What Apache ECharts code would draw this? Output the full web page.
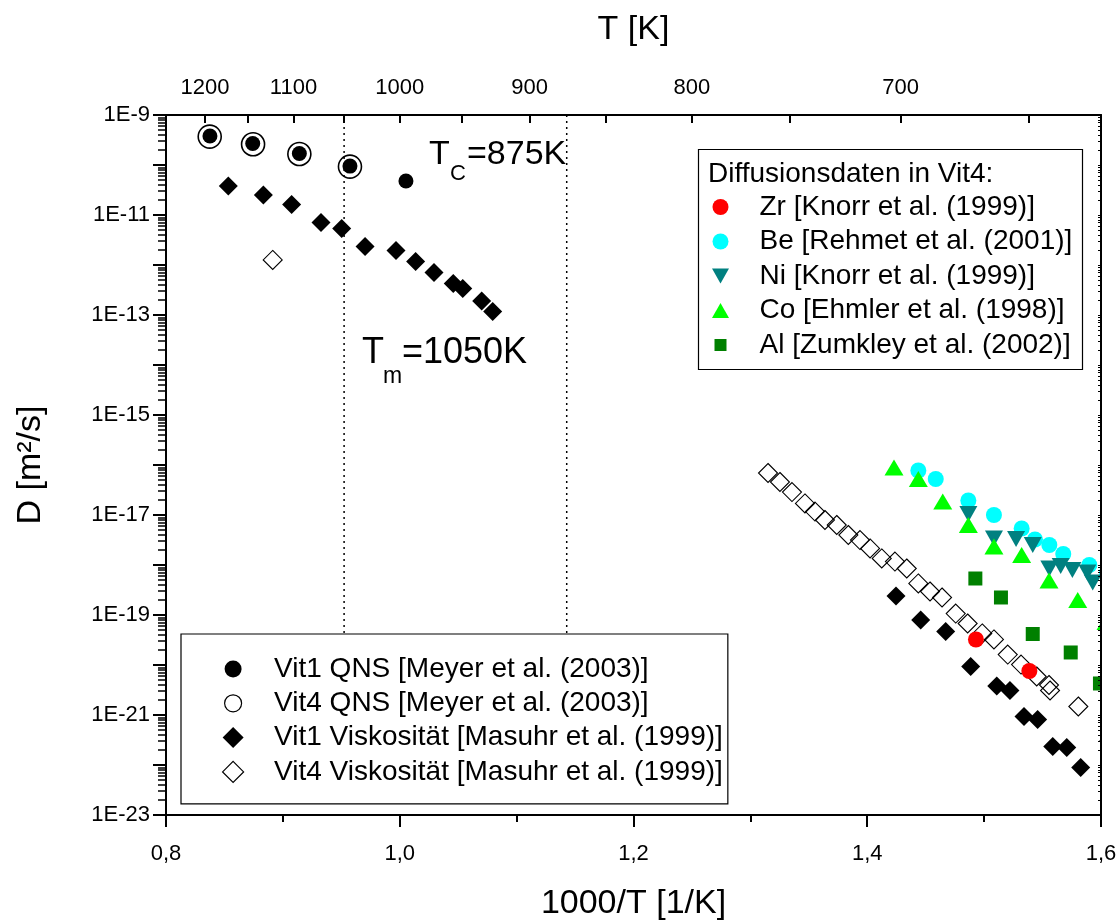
<!DOCTYPE html>
<html><head><meta charset="utf-8">
<script src="https://cdn.jsdelivr.net/npm/echarts@6/dist/echarts.min.js"></script>
<style>html,body{margin:0;padding:0;background:#fff}#c{width:1118px;height:921px}</style>
</head><body><div id="c"></div>
<script>
const FONT = "'Liberation Sans', Arial, sans-serif";

// ---- axis / annotation values ----
const topTickTemps = [1200, 1150, 1100, 1050, 1000, 950, 900, 850, 800, 750, 700, 650];
const topLabelTemps = [1200, 1100, 1000, 900, 800, 700];
const markerTemps = [1050, 875];

// ---- data: x = 1000/T [1/K], D [m^2/s] ----
const vit1QnsX = [0.8376, 0.8742, 0.9141, 0.9574, 1.0053];
const vit1QnsD = [3.8e-10, 2.7e-10, 1.7e-10, 9.5e-11, 4.8e-11];

const vit4QnsX = [0.8374, 0.8745, 0.9141, 0.9574];
const vit4QnsD = [3.7e-10, 2.6e-10, 1.66e-10, 9.3e-11];

const vit1ViskX = [0.8533, 0.8833, 0.9075, 0.9326, 0.9503, 0.9703, 0.9968, 1.0136, 1.0293, 1.0458, 1.0539, 1.0701, 1.0795,
  1.4246, 1.4457, 1.4671, 1.4885, 1.5108, 1.5221, 1.5341, 1.5458, 1.5587, 1.5707, 1.5826];
const vit1ViskD = [3.80e-11, 2.51e-11, 1.62e-11, 7.08e-12, 5.37e-12, 2.34e-12, 1.95e-12, 1.17e-12, 7.08e-13, 4.27e-13, 3.39e-13, 1.91e-13, 1.17e-13,
  2.40e-19, 7.94e-20, 4.68e-20, 9.33e-21, 3.80e-21, 3.09e-21, 9.33e-22, 8.13e-22, 2.34e-22, 2.24e-22, 8.91e-23];

const vit4ViskX = [0.8913, 1.3151, 1.3253, 1.3356, 1.3467, 1.3553, 1.3638, 1.3739, 1.3838, 1.3938, 1.4024, 1.4124, 1.4237, 1.4338,
  1.4437, 1.4537, 1.4640, 1.4757, 1.4859, 1.4984, 1.5084, 1.5202, 1.5316, 1.5450, 1.5555, 1.5564, 1.5806, 1.6073];
const vit4ViskD = [1.26e-12, 6.92e-17, 4.57e-17, 2.88e-17, 1.70e-17, 1.17e-17, 7.94e-18, 6.31e-18, 3.98e-18, 3.16e-18, 2.14e-18, 1.35e-18, 1.17e-18, 8.51e-19,
  4.27e-19, 2.95e-19, 2.24e-19, 1.07e-19, 6.76e-20, 4.27e-20, 3.24e-20, 1.62e-20, 1.02e-20, 5.89e-21, 3.98e-21, 3.09e-21, 1.48e-21, 3.09e-22];

const zrX = [1.4930, 1.5387];
const zrD = [3.24e-20, 7.59e-21];

const beX = [1.4437, 1.4586, 1.4865, 1.5084, 1.5321, 1.5435, 1.5558, 1.5677, 1.5900, 1.6051];
const beD = [7.76e-17, 5.25e-17, 1.95e-17, 1.00e-17, 5.37e-18, 3.24e-18, 2.51e-18, 1.66e-18, 1.00e-18, 7.08e-19];

const niX = [1.4865, 1.5084, 1.5273, 1.5416, 1.5558, 1.5655, 1.5755, 1.5883, 1.5929];
const niD = [1.05e-17, 3.39e-18, 3.31e-18, 2.51e-18, 8.51e-19, 9.55e-19, 7.94e-19, 7.08e-19, 4.47e-19];

const coX = [1.4229, 1.4437, 1.4646, 1.4865, 1.5084, 1.5321, 1.5555, 1.5801, 1.6043];
const coD = [8.91e-17, 5.25e-17, 1.86e-17, 6.31e-18, 2.34e-18, 1.58e-18, 4.90e-19, 2.00e-19, 7.24e-20];

const alX = [1.4925, 1.5144, 1.5416, 1.5741, 1.5991];
const alD = [5.37e-19, 2.24e-19, 4.17e-20, 1.78e-20, 4.27e-21];

// ---- names ----
const N = {
  v1q: 'Vit1 QNS [Meyer et al. (2003)]',
  v4q: 'Vit4 QNS [Meyer et al. (2003)]',
  v1v: 'Vit1 Viskosität [Masuhr et al. (1999)]',
  v4v: 'Vit4 Viskosität [Masuhr et al. (1999)]',
  zr: 'Zr [Knorr et al. (1999)]',
  be: 'Be [Rehmet et al. (2001)]',
  ni: 'Ni [Knorr et al. (1999)]',
  co: 'Co [Ehmler et al. (1998)]',
  al: 'Al [Zumkley et al. (2002)]'
};

const Y_MIN = -23, Y_MAX = -9;
const LEGEND1_BOX = { left: 181, top: 634 };

// log-axis decorations (minor ticks at k*10^n)
const decades = [];
for (let n = Y_MIN; n <= Y_MAX; n++) decades.push(n);
const minorLog = [];
for (let n = Y_MIN; n < Y_MAX; n++) for (let k = 2; k <= 9; k++) minorLog.push(n + Math.log10(k));

function pts(xs, ds) { return xs.map((x, i) => [x, Math.log10(ds[i])]); }
function sc(name, xs, ds, symbol, size, itemStyle, extra) {
  return Object.assign({
    type: 'scatter', name: name, data: pts(xs, ds), symbol: symbol, symbolSize: size,
    itemStyle: Object.assign({ opacity: 1 }, itemStyle), clip: false, silent: true, emphasis: { disabled: true }
  }, extra || {});
}

const DOWN_TRI = 'path://M0 0L18 0L9 16Z';
const L1_CIRCLE = 'path://M0 0M21 21M2 10.5A8.5 8.5 0 1 1 19 10.5A8.5 8.5 0 1 1 2 10.5Z';
const L1_DIAMOND = 'path://M10.5 0L21 10.5L10.5 21L0 10.5Z';
const L2_CIRCLE = 'path://M0 0M17 17M0.5 8.5A8 8 0 1 1 16.5 8.5A8 8 0 1 1 0.5 8.5Z';
const L2_DOWN = 'path://M0 0M17 17M0 1L17 1L8.5 16Z';
const L2_UP = 'path://M0 0M17 17M8.5 1L17 16L0 16Z';
const L2_SQUARE = 'path://M0 0M17 17M2.5 2.5L14.5 2.5L14.5 14.5L2.5 14.5Z';

// dotted vertical guide lines at T_m and T_c
function guideSeries(yStop) {
  return markerTemps.map((t, i) => ({
    id: 'guide' + i, type: 'line', name: 'guide' + t, z: 1, silent: true, showSymbol: false, symbol: 'none',
    animation: false, emphasis: { disabled: true },
    lineStyle: { color: '#000', width: 1.5, type: [2, 4] },
    data: [[1000 / t, Y_MAX], [1000 / t, yStop]]
  }));
}

const series = guideSeries(Y_MIN).concat([
  sc(N.v1q, vit1QnsX, vit1QnsD, 'circle', 15, { color: '#000' }),
  sc(N.v4q, vit4QnsX, vit4QnsD, 'circle', 23, { color: 'transparent', borderColor: '#000', borderWidth: 1.6 }),
  sc(N.v1v, vit1ViskX, vit1ViskD, 'diamond', 19, { color: '#000' }),
  sc(N.v4v, vit4ViskX, vit4ViskD, 'diamond', 19, { color: 'transparent', borderColor: '#000', borderWidth: 1.1 }),
  sc(N.zr, zrX, zrD, 'circle', 16, { color: '#ff0000' }),
  sc(N.be, beX, beD, 'circle', 16, { color: '#00ffff' }),
  sc(N.ni, niX, niD, DOWN_TRI, [18, 16], { color: '#008080' }),
  sc(N.co, coX, coD, 'triangle', [19, 16], { color: '#00ff00' }),
  sc(N.al, alX, alD, 'rect', 14, { color: '#008000' })
]);

const txt = { color: '#000', fontFamily: FONT };

const option = {
  animation: false,
  backgroundColor: '#fff',
  grid: { left: 166, right: 17, top: 115, bottom: 106, containLabel: false, outerBoundsMode: 'none' },
  xAxis: [
    {
      type: 'value', position: 'bottom', min: 0.8, max: 1.6, interval: 0.2,
      name: '1000/T [1/K]', nameLocation: 'middle', nameGap: 72,
      nameTextStyle: Object.assign({ fontSize: 34 }, txt),
      axisLine: { show: true, onZero: false, lineStyle: { color: '#000', width: 2 } },
      axisTick: { show: true, inside: false, length: 12, lineStyle: { color: '#000', width: 2 } },
      minorTick: { show: true, splitNumber: 2, length: 7, lineStyle: { color: '#000', width: 2 } },
      axisLabel: Object.assign({ fontSize: 22, margin: 28, formatter: v => v.toFixed(1).replace('.', ',') }, txt),
      splitLine: { show: false }
    },
    {
      type: 'value', position: 'top', min: 0.8, max: 1.6,
      name: 'T [K]', nameLocation: 'middle', nameGap: 68,
      nameTextStyle: Object.assign({ fontSize: 34 }, txt),
      axisLine: { show: true, onZero: false, lineStyle: { color: '#000', width: 2 } },
      axisTick: { show: true, inside: true, length: 8, customValues: topTickTemps.map(t => 1000 / t),
        lineStyle: { color: '#000', width: 2 } },
      axisLabel: Object.assign({ fontSize: 22, margin: 16, customValues: topLabelTemps.map(t => 1000 / t),
        formatter: v => String(Math.round(1000 / v)) }, txt),
      splitLine: { show: false }
    }
  ],
  yAxis: [
    {
      type: 'value', position: 'left', min: Y_MIN, max: Y_MAX, interval: 1,
      name: 'D [m²/s]', nameLocation: 'middle', nameGap: 118, nameRotate: 90,
      nameTextStyle: Object.assign({ fontSize: 34 }, txt),
      axisLine: { show: true, onZero: false, lineStyle: { color: '#000', width: 2 } },
      axisTick: { show: true, inside: false, length: 13, lineStyle: { color: '#000', width: 2 } },
      axisLabel: Object.assign({ fontSize: 22, margin: 16,
        formatter: v => (Math.abs(Math.round(v)) % 2 === 1 ? '1E' + Math.round(v) : '') }, txt),
      splitLine: { show: false }
    },
    {
      type: 'value', position: 'left', min: Y_MIN, max: Y_MAX,
      axisLine: { show: false },
      axisTick: { show: true, inside: false, length: 8, customValues: minorLog, lineStyle: { color: '#000', width: 1.5 } },
      axisLabel: { show: false },
      splitLine: { show: false }
    },
    {
      type: 'value', position: 'right', min: Y_MIN, max: Y_MAX, z: 5,
      axisLine: { show: true, onZero: false, lineStyle: { color: '#000', width: 2 } },
      axisTick: { show: true, inside: true, length: 3, customValues: minorLog.concat(decades), lineStyle: { color: '#000', width: 1 } },
      axisLabel: { show: false },
      splitLine: { show: false }
    }
  ],
  legend: [
    {
      orient: 'vertical', left: LEGEND1_BOX.left, top: LEGEND1_BOX.top, padding: [21, 5, 18, 41], itemGap: 6.3,
      backgroundColor: '#fff', borderColor: '#000', borderWidth: 1.2, borderRadius: 0,
      itemWidth: 72, itemHeight: 21, selectedMode: false, z: 8,
      textStyle: Object.assign({ fontSize: 28, lineHeight: 28 }, txt),
      data: [
        { name: N.v1q, icon: L1_CIRCLE, itemStyle: { color: '#000', borderWidth: 0, opacity: 1 } },
        { name: N.v4q, icon: L1_CIRCLE, itemStyle: { color: '#fff', borderColor: '#000', borderWidth: 1.2, opacity: 1 } },
        { name: N.v1v, icon: L1_DIAMOND, itemStyle: { color: '#000', borderWidth: 0, opacity: 1 } },
        { name: N.v4v, icon: L1_DIAMOND, itemStyle: { color: '#fff', borderColor: '#000', borderWidth: 1.2, opacity: 1 } }
      ]
    },
    {
      orient: 'vertical', left: 712, top: 193, padding: 0, itemGap: 6.5,
      itemWidth: 68, itemHeight: 17, selectedMode: false, z: 8,
      textStyle: Object.assign({ fontSize: 28, lineHeight: 28 }, txt),
      data: [
        { name: N.zr, icon: L2_CIRCLE, itemStyle: { color: '#ff0000', borderWidth: 0, opacity: 1 } },
        { name: N.be, icon: L2_CIRCLE, itemStyle: { color: '#00ffff', borderWidth: 0, opacity: 1 } },
        { name: N.ni, icon: L2_DOWN, itemStyle: { color: '#008080', borderWidth: 0, opacity: 1 } },
        { name: N.co, icon: L2_UP, itemStyle: { color: '#00ff00', borderWidth: 0, opacity: 1 } },
        { name: N.al, icon: L2_SQUARE, itemStyle: { color: '#008000', borderWidth: 0, opacity: 1 } }
      ]
    }
  ],
  graphic: [
    { type: 'rect', z: 6, shape: { x: 1102, y: 100, width: 16, height: 730 }, style: { fill: '#fff' } },
    { type: 'rect', z: 7, shape: { x: 698.5, y: 149.5, width: 384, height: 220 }, style: { fill: '#fff', stroke: '#000', lineWidth: 1.2 } },
    { type: 'text', z: 9, x: 708, y: 174, style: { text: 'Diffusionsdaten in Vit4:', fontSize: 28, fontFamily: FONT, fill: '#000', align: 'left', verticalAlign: 'middle' } },
    { type: 'text', z: 9, x: 429, y: 155, style: { text: 'T', fontSize: 34, fontFamily: FONT, fill: '#000', align: 'left', verticalAlign: 'middle' } },
    { type: 'text', z: 9, x: 450, y: 174, style: { text: 'C', fontSize: 22, fontFamily: FONT, fill: '#000', align: 'left', verticalAlign: 'middle' } },
    { type: 'text', z: 9, x: 467, y: 155, style: { text: '=' + markerTemps[1] + 'K', fontSize: 34, fontFamily: FONT, fill: '#000', align: 'left', verticalAlign: 'middle' } },
    { type: 'text', z: 9, x: 362, y: 353, style: { text: 'T', fontSize: 36, fontFamily: FONT, fill: '#000', align: 'left', verticalAlign: 'middle' } },
    { type: 'text', z: 9, x: 383, y: 377, style: { text: 'm', fontSize: 23, fontFamily: FONT, fill: '#000', align: 'left', verticalAlign: 'middle' } },
    { type: 'text', z: 9, x: 402, y: 353, style: { text: '=' + markerTemps[0] + 'K', fontSize: 36, fontFamily: FONT, fill: '#000', align: 'left', verticalAlign: 'middle' } }
  ],
  series: series
};

const chart = echarts.init(document.getElementById('c'), null, { renderer: 'canvas' });
chart.setOption(option);
// stop the guide lines at the top edge of the lower-left legend box
const yStop = chart.convertFromPixel({ yAxisIndex: 0 }, LEGEND1_BOX.top);
if (isFinite(yStop)) chart.setOption({ series: guideSeries(yStop) });
</script>
</body></html>
